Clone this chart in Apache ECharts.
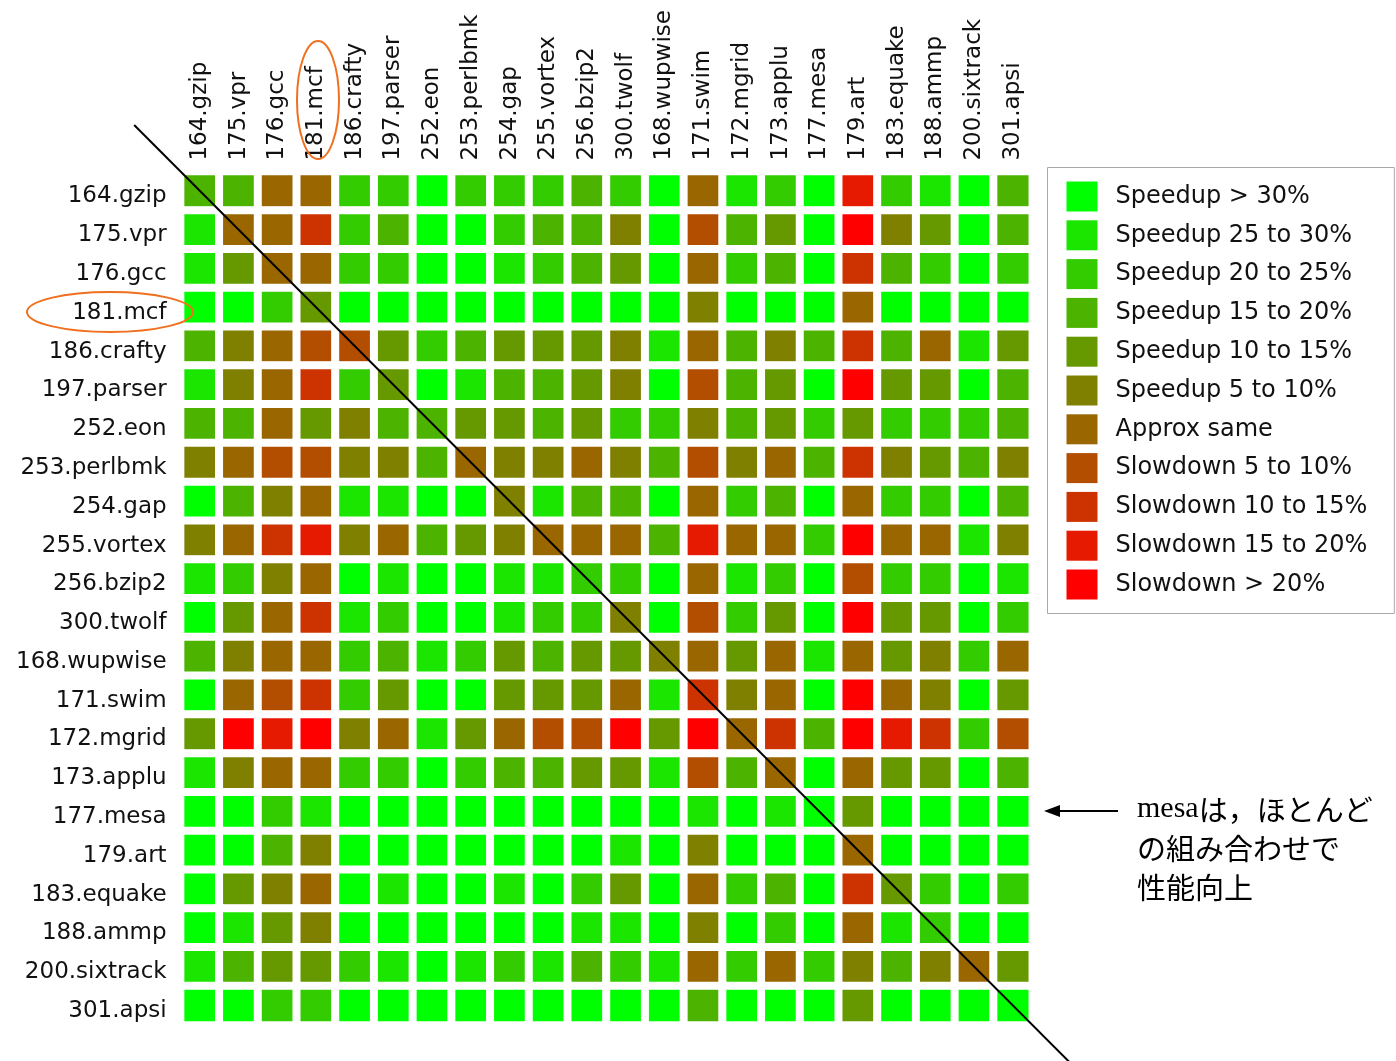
<!DOCTYPE html>
<html>
<head>
<meta charset="utf-8">
<script src="https://cdn.jsdelivr.net/npm/echarts@6/dist/echarts.min.js"></script>
<style>
  html, body { margin: 0; padding: 0; background: #fff; }
  #chart { width: 1396px; height: 1061px; }
</style>
</head>
<body>
<div id="chart"></div>
<script>
// benchmarks (same order on both axes)
const benchmarks = [
  "164.gzip", "175.vpr", "176.gcc", "181.mcf", "186.crafty", "197.parser",
  "252.eon", "253.perlbmk", "254.gap", "255.vortex", "256.bzip2", "300.twolf",
  "168.wupwise", "171.swim", "172.mgrid", "173.applu", "177.mesa", "179.art",
  "183.equake", "188.ammp", "200.sixtrack", "301.apsi"
];

// legend classes, 0 = best speedup ... 10 = worst slowdown
const levelLabels = [
  "Speedup > 30%", "Speedup 25 to 30%", "Speedup 20 to 25%", "Speedup 15 to 20%",
  "Speedup 10 to 15%", "Speedup 5 to 10%", "Approx same", "Slowdown 5 to 10%",
  "Slowdown 10 to 15%", "Slowdown 15 to 20%", "Slowdown > 20%"
];
const levelColors = [
  "#00ff00", "#1ae600", "#33cc00", "#4cb300", "#669900", "#808000",
  "#996600", "#b34d00", "#cc3300", "#e61a00", "#ff0000"
];

// one row per benchmark (row label), one value per column benchmark
const speedLevels = [
  [3,3,6,6,2,2,0,2,2,2,3, 2,0,6,1,2,0,9,2,1,0,3],   // 164.gzip
  [1,6,6,8,2,3,0,0,2,3,3, 5,0,7,3,4,0,10,5,4,0,3],  // 175.vpr
  [1,4,6,6,2,2,0,0,1,2,3, 4,0,6,2,3,0,8,3,2,0,2],   // 176.gcc
  [0,0,2,4,0,0,0,0,0,0,0, 0,0,5,0,0,0,6,0,0,0,0],   // 181.mcf
  [3,5,6,7,7,4,2,3,4,4,4, 5,1,6,3,5,3,8,3,6,1,4],   // 186.crafty
  [1,5,6,8,2,4,0,1,3,3,4, 5,0,7,3,4,0,10,4,4,0,3],  // 197.parser
  [3,3,6,4,5,3,3,4,4,3,4, 2,2,5,3,4,2,4,2,2,2,3],   // 252.eon
  [5,6,7,7,5,5,3,6,5,5,6, 5,3,7,5,6,3,8,5,4,3,5],   // 253.perlbmk
  [0,3,5,6,1,1,0,0,5,1,3, 3,0,6,2,3,0,6,2,2,0,3],   // 254.gap
  [5,6,8,9,5,6,3,4,5,6,6, 6,3,9,6,6,2,10,6,6,1,5],  // 255.vortex
  [1,2,5,6,0,1,0,0,1,1,2, 2,0,6,1,2,0,7,2,2,0,1],   // 256.bzip2
  [0,4,6,8,1,2,0,0,1,2,2, 5,0,7,2,4,0,10,4,4,0,2],  // 300.twolf
  [3,5,6,6,2,3,1,2,4,3,4, 4,5,6,4,6,1,6,4,5,2,6],   // 168.wupwise
  [0,6,7,8,2,4,0,0,4,4,4, 6,1,8,5,6,0,10,6,5,0,4],  // 171.swim
  [4,10,9,10,5,6,1,4,6,7,7, 10,4,10,6,8,3,10,9,8,2,7], // 172.mgrid
  [1,5,6,6,2,2,0,2,3,3,4, 4,1,7,3,6,0,6,4,4,0,3],   // 173.applu
  [0,0,2,1,0,0,0,0,0,0,0, 0,0,1,0,1,0,4,0,0,0,0],   // 177.mesa
  [0,0,3,5,0,0,0,0,0,0,0, 1,0,5,0,0,0,6,0,0,0,0],   // 179.art
  [0,4,5,6,0,1,0,0,1,0,2, 4,0,6,2,3,0,8,4,2,0,2],   // 183.equake
  [0,1,4,5,0,0,0,0,0,0,1, 1,0,5,0,2,0,6,1,2,0,0],   // 188.ammp
  [1,3,4,4,2,1,0,1,2,1,3, 2,1,6,2,6,2,5,3,5,6,4],   // 200.sixtrack
  [0,0,2,2,0,0,0,0,0,0,0, 0,0,3,0,0,0,4,0,0,0,0]    // 301.apsi
];

const chart = echarts.init(document.getElementById("chart"));

let cells = [];
speedLevels.forEach(function (row, r) {
  row.forEach(function (v, c) {
    cells.push([c, r, v]);
  });
});

const option = {
  backgroundColor: "#fff",
  animation: false,
  grid: {
    left: 180.6,
    top: 171.6,
    width: 851.7,
    height: 853.3
  },
  xAxis: {
    type: "category",
    position: "top",
    data: benchmarks,
    axisLine: { show: false },
    axisTick: { show: false },
    splitLine: { show: false },
    axisLabel: {
      rotate: -90,
      margin: 11,
      interval: 0,
      color: "#111",
      fontSize: 23,
      fontFamily: "DejaVu Sans"
    }
  },
  yAxis: {
    type: "category",
    inverse: true,
    data: benchmarks,
    axisLine: { show: false },
    axisTick: { show: false },
    splitLine: { show: false },
    axisLabel: {
      margin: 14,
      interval: 0,
      // labels sit a little below the row centre in the original
      formatter: function (v) { return "{a|" + v + "}"; },
      rich: {
        a: {
          color: "#111",
          fontSize: 23,
          fontFamily: "DejaVu Sans",
          padding: [11, 0, 0, 0]
        }
      }
    }
  },
  visualMap: {
    type: "piecewise",
    dimension: 2,
    orient: "vertical",
    inverse: true,
    left: 1047,
    top: 167,
    itemWidth: 31,
    itemHeight: 30,
    itemGap: 8.8,
    itemSymbol: "rect",
    textGap: 18,
    align: "left",
    selectedMode: false,
    backgroundColor: "#fff",
    borderColor: "#aaa",
    borderWidth: 1,
    padding: [14, 27, 14, 19],
    textStyle: { color: "#111", fontSize: 24, fontFamily: "DejaVu Sans" },
    pieces: levelLabels.map(function (label, i) {
      return { value: i, label: label, color: levelColors[i] };
    })
  },
  series: [
    {
      type: "heatmap",
      data: cells,
      itemStyle: { borderColor: "#fff", borderWidth: 8 },
      emphasis: { disabled: true }
    }
  ]
};
chart.setOption(option);

// annotation: diagonal, rings, arrow + note
const p0 = chart.convertToPixel({ gridIndex: 0 }, [0, 0]);
const p1 = chart.convertToPixel({ gridIndex: 0 }, [21, 21]);
const dx = (p1[0] - p0[0]) / 21, dy = (p1[1] - p0[1]) / 21;
const orange = "#f07020";

chart.setOption({
  graphic: [
    {
      type: "line", z: 100,
      shape: { x1: p0[0] - 1.7 * dx, y1: p0[1] - 1.7 * dy, x2: p0[0] + 22.5 * dx, y2: p0[1] + 22.5 * dy },
      style: { stroke: "#000", lineWidth: 2 }
    },
    {
      type: "ellipse", z: 100,
      shape: { cx: 318, cy: 100, rx: 21, ry: 59 },
      style: { fill: "none", stroke: orange, lineWidth: 2 }
    },
    {
      type: "ellipse", z: 100,
      shape: { cx: 110, cy: 312, rx: 83, ry: 20 },
      style: { fill: "none", stroke: orange, lineWidth: 2 }
    },
    {
      type: "line", z: 100,
      shape: { x1: 1118, y1: 811, x2: 1058, y2: 811 },
      style: { stroke: "#000", lineWidth: 2 }
    },
    {
      type: "polygon", z: 100,
      shape: { points: [[1044, 811], [1060, 805], [1060, 817]] },
      style: { fill: "#000" }
    },
    {
      type: "text", z: 100,
      x: 1137, y: 790,
      style: {
        text: "{s|mesa}{j|は，ほとんど}\n{j|の組み合わせで}\n{j|性能向上}",
        rich: {
          s: { fontFamily: "Liberation Serif", fontSize: 30, fill: "#000", lineHeight: 39 },
          j: { fontFamily: "Noto Sans CJK JP", fontSize: 29, fill: "#000", lineHeight: 39 }
        }
      }
    }
  ]
});

window.addEventListener("resize", function () {
  chart.resize();
});
</script>
</body>
</html>
